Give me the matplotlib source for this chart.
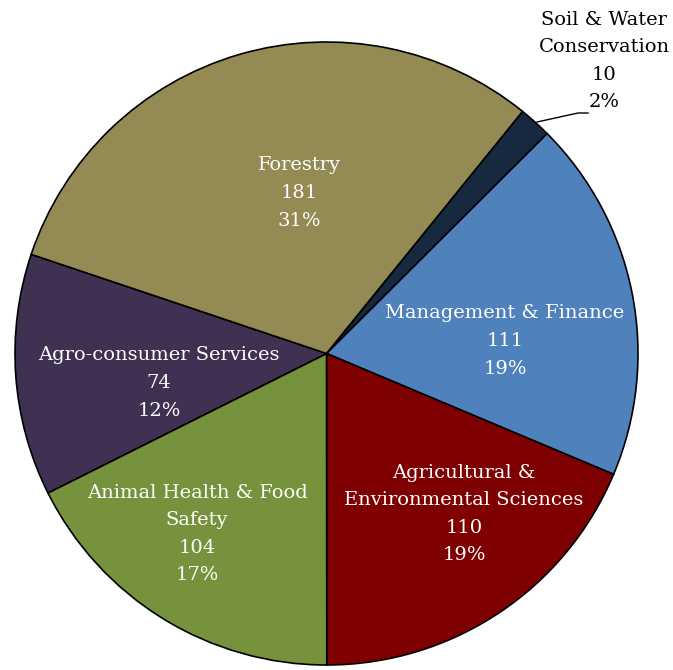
import matplotlib.pyplot as plt
import numpy as np

# Data
categories = ['Soil & Water\nConservation', 'Management & Finance',
              'Agricultural &\nEnvironmental Sciences',
              'Animal Health & Food\nSafety', 'Agro-consumer Services',
              'Forestry']
counts = [10, 111, 110, 104, 74, 181]
percents = ['2%', '19%', '19%', '17%', '12%', '31%']
colors = ['#17293F', '#4F81BD', '#7F0000', '#76923C', '#3F3151', '#948A54']
text_colors = ['black', 'white', 'white', 'white', 'white', 'white']

# layout (pixel coords, y from top)
W, H = 673, 670
center = (326.5, 353.5)
radius = 311.5
label_pos = [(604, 61), (505, 341), (464, 514), (197, 534), (159, 383), (299, 193)]

plt.rcParams['font.family'] = ['DejaVu Serif']

fig = plt.figure(figsize=(W / 100, H / 100), dpi=100)
ax = fig.add_axes([0, 0, 1, 1])

ax.pie(counts, colors=colors, startangle=51, counterclock=False,
       center=(center[0], H - center[1]), radius=radius,
       wedgeprops=dict(edgecolor='black', linewidth=1.2), frame=True)
ax.set_xlim(0, W)
ax.set_ylim(0, H)
ax.axis('off')

for name, n, p, (x, y), tc in zip(categories, counts, percents, label_pos, text_colors):
    ax.text(x, H - y, f'{name}\n{n}\n{p}', ha='center', va='center',
            color=tc, fontsize=14, linespacing=1.69)

# leader line for the small slice
ax.plot([537, 578, 588], [H - 122, H - 113, H - 113], color='black', lw=1.0)

fig.savefig('out.png', dpi=100)
